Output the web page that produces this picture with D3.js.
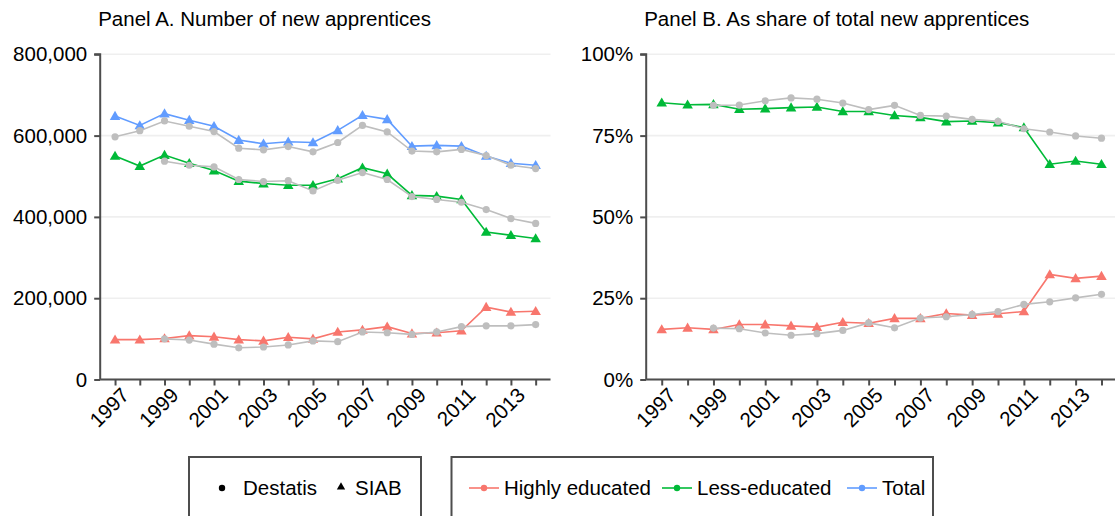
<!DOCTYPE html>
<html><head><meta charset="utf-8">
<script src="https://cdn.jsdelivr.net/npm/d3@7"></script>
<style>
body{margin:0;background:#fff;}
svg{display:block;font-family:"Liberation Sans",Arial,sans-serif;}
</style></head>
<body><svg id="c" width="1115" height="516"></svg>
<script>
const years = [1997,1998,1999,2000,2001,2002,2003,2004,2005,2006,2007,2008,2009,2010,2011,2012,2013,2014];
const tickYearsA = [1997,1999,2001,2003,2005,2007,2009,2011,2013];
// Panel A (counts)
const siabTotal = [648000,625000,654000,638000,623000,589000,580000,585000,583000,613000,650000,640000,574000,576000,574000,550000,532000,527000];
const destTotal = [597000,612000,636000,623000,610000,569000,565000,573000,560000,583000,625000,609000,562000,560000,566000,551000,527000,519000];
const siabLess  = [550000,525000,552000,532000,514000,488000,482000,478000,478000,494000,521000,506000,453000,451000,443000,363000,355000,347000];
const destLess  = [null,null,537000,527000,523000,492000,487000,489000,464000,490000,509000,492000,450000,443000,436000,418000,396000,384000];
const siabHigh  = [98000,98000,101000,108000,105000,98000,95000,104000,100000,117000,122000,130000,113000,115000,120000,178000,166000,168000];
const destHigh  = [null,null,100000,97000,87000,78000,80000,85000,95000,93000,117000,115000,111000,117000,130000,132000,132000,135000];
const yTicksA = [0,200000,400000,600000,800000];
// Panel B (shares, %)
const siabLessShare = [85.1,84.5,84.6,83.1,83.3,83.6,83.8,82.4,82.4,81.2,80.6,79.3,79.5,79.0,77.5,66.2,67.2,66.2];
const destLessShare = [null,null,84.3,84.4,85.7,86.6,86.2,85.0,83.0,84.3,81.2,81.0,80.0,79.4,77.1,76.1,74.9,74.2];
const siabHighShare = [15.4,15.9,15.4,16.9,16.9,16.5,16.1,17.6,17.3,18.8,18.8,20.3,19.8,20.2,20.9,32.3,31.1,31.8];
const destHighShare = [null,null,15.8,15.6,14.3,13.6,14.1,15.1,17.4,15.9,18.9,19.3,20.0,20.9,23.1,23.9,25.1,26.2];
const yTicksB = [0,25,50,75,100];

const colors = {high:"#F8766D", less:"#00BA38", total:"#619CFF", dest:"#BEBEBE"};
const titles = ["Panel A. Number of new apprentices","Panel B. As share of total new apprentices"];
const sourceLabels = ["Destatis","SIAB"];
const groupLabels = ["Highly educated","Less-educated","Total"];

const svg = d3.select("#c");
const FS = 20.5;
const axisCol = "#4d4d4d";

function panel(cfg){
  const x = d3.scaleLinear().domain([1996.4, 2014.6]).range([cfg.x0, cfg.x1]);
  const y = d3.scaleLinear().domain([0, cfg.ymax]).range([379.5, 54.3]);
  const g = svg.append("g");
  // grid
  g.selectAll(".grid").data(cfg.yTicks).join("line")
    .attr("x1", cfg.x0).attr("x2", cfg.x1)
    .attr("y1", d=>y(d)).attr("y2", d=>y(d))
    .attr("stroke","#efefef").attr("stroke-width",1.6);
  // axes
  const ya = g.append("g").attr("transform",`translate(${cfg.x0},0)`)
    .call(d3.axisLeft(y).tickValues(cfg.yTicks).tickFormat(cfg.fmt).tickSize(6).tickPadding(7));
  const xa = g.append("g").attr("transform",`translate(0,379.5)`)
    .call(d3.axisBottom(x).tickValues(years).tickFormat(d=> tickYearsA.includes(d)? String(d):"").tickSize(6).tickPadding(4));
  [ya,xa].forEach(a=>{
    a.select(".domain").attr("stroke",axisCol).attr("stroke-width",2);
    a.selectAll(".tick line").attr("stroke",axisCol).attr("stroke-width",2);
    a.selectAll("text").attr("font-size",FS).attr("fill","#000").attr("font-family","Liberation Sans, Arial, sans-serif");
  });
  ya.select(".domain").attr("d",`M-6,${y(cfg.ymax)}H0V379.5`);
  xa.select(".domain").attr("d",`M${cfg.x0},0H${cfg.x1}`);
  xa.selectAll(".tick text").attr("text-anchor","end")
    .attr("transform","translate(4,6) rotate(-45)").attr("dy","0.75em").attr("y",0).attr("x",0);
  // title
  g.append("text").attr("x", cfg.x0-2).attr("y", 26).attr("font-size",FS).attr("fill","#000").text(cfg.title);

  const line = d3.line().defined(d=>d[1]!=null).x(d=>x(d[0])).y(d=>y(d[1]));
  const tri = d3.symbol().type(d3.symbolTriangle).size(48);
  cfg.siab.forEach(s=>{
    const pts = years.map((yr,i)=>[yr,s.v[i]]);
    g.append("path").attr("d",line(pts)).attr("fill","none").attr("stroke",s.c).attr("stroke-width",1.6);
    g.selectAll(null).data(pts.filter(p=>p[1]!=null)).join("path")
      .attr("d",tri).attr("transform",p=>`translate(${x(p[0])},${y(p[1])+0.8})`).attr("fill",s.c);
  });
  cfg.dest.forEach(s=>{
    const pts = years.map((yr,i)=>[yr,s[i]]);
    g.append("path").attr("d",line(pts)).attr("fill","none").attr("stroke",colors.dest).attr("stroke-width",1.6);
    g.selectAll(null).data(pts.filter(p=>p[1]!=null)).join("circle")
      .attr("cx",p=>x(p[0])).attr("cy",p=>y(p[1])).attr("r",3.6).attr("fill",colors.dest);
  });
}

panel({x0:100.2, x1:550.5, ymax:800000, yTicks:yTicksA, fmt:d3.format(","), title:titles[0],
  siab:[{v:siabTotal,c:colors.total},{v:siabLess,c:colors.less},{v:siabHigh,c:colors.high}],
  dest:[destTotal,destLess,destHigh]});
panel({x0:646.2, x1:1117, ymax:100, yTicks:yTicksB, fmt:d=>d+"%", title:titles[1],
  siab:[{v:siabLessShare,c:colors.less},{v:siabHighShare,c:colors.high}],
  dest:[destLessShare,destHighShare]});

// Legends
const lg = svg.append("g");
lg.append("rect").attr("x",189).attr("y",457).attr("width",232).attr("height",70)
  .attr("fill","#fff").attr("stroke",axisCol).attr("stroke-width",2);
lg.append("rect").attr("x",451.5).attr("y",457).attr("width",481.5).attr("height",70)
  .attr("fill","#fff").attr("stroke",axisCol).attr("stroke-width",2);
const ly = 488;
lg.append("circle").attr("cx",222).attr("cy",ly).attr("r",3.2).attr("fill","#000");
lg.append("text").attr("x",243).attr("y",ly).attr("dy","0.35em").attr("font-size",FS).text(sourceLabels[0]);
lg.append("path").attr("d",d3.symbol().type(d3.symbolTriangle).size(30)).attr("transform",`translate(341,${ly-1})`).attr("fill","#000");
lg.append("text").attr("x",355).attr("y",ly).attr("dy","0.35em").attr("font-size",FS).text(sourceLabels[1]);
const keyX = [469,662,847];
const keyC = [colors.high,colors.less,colors.total];
groupLabels.forEach((lab,i)=>{
  lg.append("line").attr("x1",keyX[i]).attr("x2",keyX[i]+30).attr("y1",ly).attr("y2",ly).attr("stroke",keyC[i]).attr("stroke-width",1.6);
  lg.append("circle").attr("cx",keyX[i]+15).attr("cy",ly).attr("r",3.2).attr("fill",keyC[i]);
  lg.append("text").attr("x",keyX[i]+35).attr("y",ly).attr("dy","0.35em").attr("font-size",FS).text(lab);
});
</script></body></html>
